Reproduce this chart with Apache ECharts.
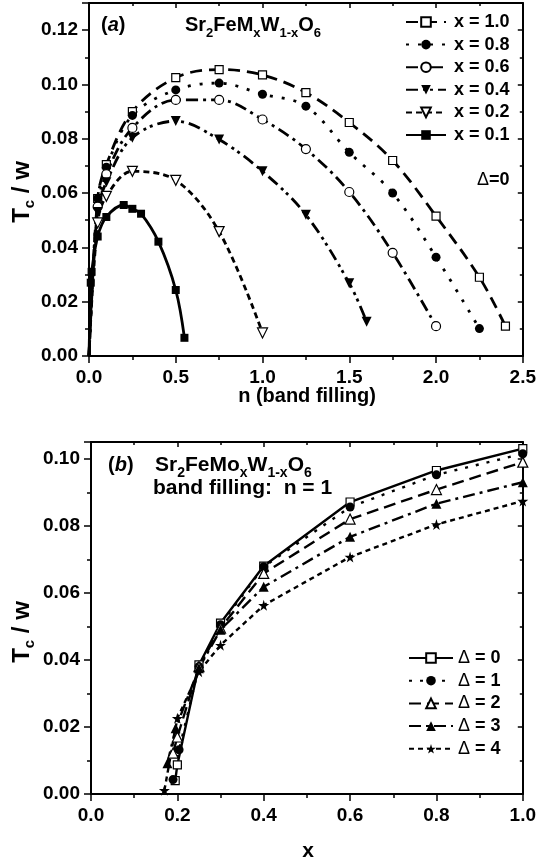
<!DOCTYPE html>
<html>
<head>
<meta charset="utf-8">
<script src="https://cdn.jsdelivr.net/npm/echarts@6/dist/echarts.min.js"></script>
<style>
  html, body { margin: 0; padding: 0; background: #fff; }
  #chart { width: 539px; height: 863px; }
</style>
</head>
<body>
<div id="chart"></div>
<script>
// panel (a): Tc/w against band filling n, Delta = 0
const nX10 = [0, 0.05, 0.1, 0.25, 0.5, 0.75, 1.0, 1.25, 1.5, 1.75, 2.0, 2.25, 2.4];
const tcX10 = [0, 0.058, 0.0705, 0.090, 0.1025, 0.1055, 0.1035, 0.097, 0.086, 0.072, 0.0515, 0.029, 0.011];
const nX08 = [0, 0.05, 0.1, 0.25, 0.5, 0.75, 1.0, 1.25, 1.5, 1.75, 2.0, 2.25];
const tcX08 = [0, 0.058, 0.0695, 0.0886, 0.098, 0.1005, 0.0964, 0.092, 0.075, 0.060, 0.0364, 0.0101];
const nX06 = [0, 0.05, 0.1, 0.25, 0.5, 0.75, 1.0, 1.25, 1.5, 1.75, 2.0];
const tcX06 = [0, 0.055, 0.067, 0.084, 0.0943, 0.0943, 0.0871, 0.0762, 0.0604, 0.038, 0.011];
const nX04 = [0, 0.05, 0.1, 0.25, 0.5, 0.75, 1.0, 1.25, 1.5, 1.6];
const tcX04 = [0, 0.053, 0.064, 0.0804, 0.0865, 0.0797, 0.068, 0.052, 0.0268, 0.0126];
const nX02 = [0, 0.05, 0.1, 0.25, 0.5, 0.75, 1.0];
const tcX02 = [0, 0.049, 0.0588, 0.068, 0.0647, 0.0458, 0.0085];
const nX01 = [0, 0.01, 0.015, 0.05, 0.1, 0.2, 0.25, 0.3, 0.4, 0.5, 0.55];
const tcX01 = [0, 0.027, 0.031, 0.044, 0.0512, 0.0556, 0.0542, 0.0524, 0.0421, 0.0243, 0.0067];

// panel (b): Tc/w against x at n = 1
const xD0 = [0.195, 0.2, 0.25, 0.3, 0.4, 0.6, 0.8, 1.0];
const tcD0 = [0.004, 0.0087, 0.0385, 0.051, 0.068, 0.0871, 0.0965, 0.103];
const xD1 = [0.19, 0.204, 0.25, 0.3, 0.4, 0.6, 0.8, 1.0];
const tcD1 = [0.0043, 0.0132, 0.038, 0.0505, 0.0678, 0.0856, 0.0952, 0.1015];
const xD2 = [0.19, 0.2, 0.25, 0.3, 0.4, 0.6, 0.8, 1.0];
const tcD2 = [0.0122, 0.017, 0.038, 0.0495, 0.0658, 0.082, 0.0908, 0.099];
const xD3 = [0.177, 0.196, 0.25, 0.3, 0.4, 0.6, 0.8, 1.0];
const tcD3 = [0.0092, 0.0196, 0.0375, 0.049, 0.0618, 0.0767, 0.0866, 0.093];
const xD4 = [0.17, 0.2, 0.25, 0.3, 0.4, 0.6, 0.8, 1.0];
const tcD4 = [0.0011, 0.0226, 0.0365, 0.0444, 0.0563, 0.0707, 0.0804, 0.0874];

const namesA = ['x = 1.0', 'x = 0.8', 'x = 0.6', 'x = 0.4', 'x = 0.2', 'x = 0.1'];
const namesB = ['Δ = 0', 'Δ = 1', 'Δ = 2', 'Δ = 3', 'Δ = 4'];

const FONT = 'Liberation Sans, Arial, sans-serif';
const STAR = 'path://M50,0 L61,35 L98,35 L68,57 L79,91 L50,70 L21,91 L32,57 L2,35 L39,35 Z';

const chart = echarts.init(document.getElementById('chart'));

// zip two arrays into points, the origin is a line-only point
function pts(xs, ys) {
    return xs.map((x, i) => (x === 0 && ys[i] === 0) ? { value: [0, 0], symbol: 'none' } : [x, ys[i]]);
}

const openSym = { color: '#fff', borderColor: '#000', borderWidth: 1.2 };
const fillSym = { color: '#000', borderColor: '#000', borderWidth: 0 };

function line(name, data, grid, dash, width, symbol, size, filled, rotate, smooth) {
    return {
        name: name,
        type: 'line',
        xAxisIndex: grid * 2,
        yAxisIndex: grid * 2,
        data: data,
        smooth: smooth,
        symbol: symbol,
        symbolSize: size,
        symbolRotate: rotate || 0,
        showAllSymbol: true,
        lineStyle: { color: '#000', width: width, type: dash },
        itemStyle: filled ? fillSym : openSym,
        emphasis: { disabled: true },
        animation: false
    };
}

// main axes with outside ticks plus mirrored axes with inside ticks
function axisPair(kind, grid, min, max, interval, digits, margin) {
    const main = {
        type: 'value', gridIndex: grid, min: min, max: max, interval: interval,
        position: kind === 'x' ? 'bottom' : 'left',
        axisLine: { onZero: false, lineStyle: { color: '#000', width: 2 } },
        axisTick: { inside: false, length: 7, lineStyle: { color: '#000', width: 1.5 } },
        minorTick: { show: true, splitNumber: 2, length: 4, lineStyle: { color: '#000', width: 1.5 } },
        splitLine: { show: false },
        axisLabel: {
            color: '#000', fontSize: 19, fontWeight: 'bold', fontFamily: FONT,
            margin: margin, showMaxLabel: kind === 'x',
            formatter: v => v.toFixed(digits)
        }
    };
    const mirror = {
        type: 'value', gridIndex: grid, min: min, max: max, interval: interval,
        position: kind === 'x' ? 'top' : 'right',
        axisLine: { onZero: false, lineStyle: { color: '#000', width: 2 } },
        axisTick: { inside: true, length: 5, lineStyle: { color: '#000', width: 1.5 } },
        minorTick: { show: true, splitNumber: 2, length: 3, lineStyle: { color: '#000', width: 1.5 } },
        splitLine: { show: false },
        axisLabel: { show: false }
    };
    return [main, mirror];
}

function richSet(main, sub, shift) {
    return {
        m: { fontSize: main, fontWeight: 'bold', fontFamily: FONT, color: '#000' },
        i: { fontSize: main, fontWeight: 'bold', fontStyle: 'italic', fontFamily: FONT, color: '#000' },
        s: { fontSize: sub, fontWeight: 'bold', fontFamily: FONT, color: '#000', padding: [shift, 0, 0, 0] },
        d: { fontSize: main, fontWeight: 'normal', fontFamily: FONT, color: '#000' }
    };
}
const rich18 = richSet(18, 12, 16);
const rich20 = richSet(20, 13, 16);
const rich21 = richSet(21, 14, 17);
const rich24 = richSet(24, 15, 16);

function label(text, x, y, rich, align, rotation) {
    return {
        type: 'text', x: x, y: y, rotation: rotation || 0,
        style: { text: text, rich: rich, align: align || 'left', verticalAlign: 'middle', fill: '#000' }
    };
}

const legendText = { color: '#000', fontSize: 18, fontWeight: 'bold', fontFamily: FONT, lineHeight: 18, rich: rich18, padding: [0, 0, 0, 3] };

const option = {
    animation: false,
    backgroundColor: '#fff',
    grid: [
        { left: 89, right: 14, top: 3, height: 353 },
        { left: 91, right: 14, top: 442, height: 352 }
    ],
    xAxis: [
        ...axisPair('x', 0, 0, 2.5, 0.5, 1, 12),
        ...axisPair('x', 1, 0, 1.0, 0.2, 1, 12)
    ],
    yAxis: [
        ...axisPair('y', 0, 0, 0.13, 0.02, 2, 11),
        ...axisPair('y', 1, 0, 0.105, 0.02, 2, 11)
    ],
    legend: [
        {
            data: namesA, orient: 'vertical', left: 405, top: 13, padding: 0,
            itemWidth: 40, itemHeight: 12, itemGap: 4.6,
            textStyle: legendText, selectedMode: false
        },
        {
            data: namesB, orient: 'vertical', left: 408, top: 649, padding: 0,
            itemWidth: 44, itemHeight: 12, itemGap: 4.7,
            textStyle: Object.assign({}, legendText, { padding: 0 }), selectedMode: false,
            formatter: n => '{d|Δ}{m|' + n.slice(1) + '}'
        }
    ],
    series: [
        line(namesA[0], pts(nX10, tcX10), 0, [12, 7], 2.8, 'rect', 8, false, 0, 0.35),
        line(namesA[1], pts(nX08, tcX08), 0, [3, 9], 2.8, 'circle', 9, true, 0, 0.35),
        line(namesA[2], pts(nX06, tcX06), 0, [12, 5, 3, 5], 2.8, 'circle', 9, false, 0, 0.35),
        line(namesA[3], pts(nX04, tcX04), 0, [12, 5, 3, 4, 3, 5], 2.8, 'triangle', 10, true, 180, 0.35),
        line(namesA[4], pts(nX02, tcX02), 0, [6, 4], 2.8, 'triangle', 10, false, 180, 0.35),
        line(namesA[5], pts(nX01, tcX01), 0, 'solid', 2.8, 'rect', 8, true, 0, 0.35),
        line(namesB[0], pts(xD0, tcD0), 1, 'solid', 2.4, 'rect', 8, false, 0, false),
        line(namesB[1], pts(xD1, tcD1), 1, [3, 8], 2.4, 'circle', 9, true, 0, false),
        line(namesB[2], pts(xD2, tcD2), 1, [12, 6], 2.4, 'triangle', 10, false, 0, false),
        line(namesB[3], pts(xD3, tcD3), 1, [12, 5, 3, 5], 2.4, 'triangle', 10, true, 0, false),
        line(namesB[4], pts(xD4, tcD4), 1, [5, 4], 2.4, STAR, 11, true, 0, false)
    ],
    graphic: [
        label('{m|(}{i|a}{m|)}', 101, 25, rich20),
        label('{m|Sr}{s|2}{m|FeM}{s|x}{m|W}{s|1-x}{m|O}{s|6}', 185, 25, rich20),
        label('{d|Δ}{m|=0}', 477, 180, rich18),
        label('{m|n (band filling)}', 307, 396, rich20, 'center'),
        label('{m|T}{s|c}{m| / w}', 22, 192, rich24, 'center', Math.PI / 2),
        label('{m|(}{i|b}{m|)}', 108, 465, rich20),
        label('{m|Sr}{s|2}{m|FeMo}{s|x}{m|W}{s|1-x}{m|O}{s|6}', 155, 465, rich21),
        label('{m|band filling:  n = 1}', 153, 488, rich21),
        label('{m|x}', 308, 851, rich21, 'center'),
        label('{m|T}{s|c}{m| / w}', 22, 632, rich24, 'center', Math.PI / 2)
    ]
};

chart.setOption(option);
</script>
</body>
</html>
